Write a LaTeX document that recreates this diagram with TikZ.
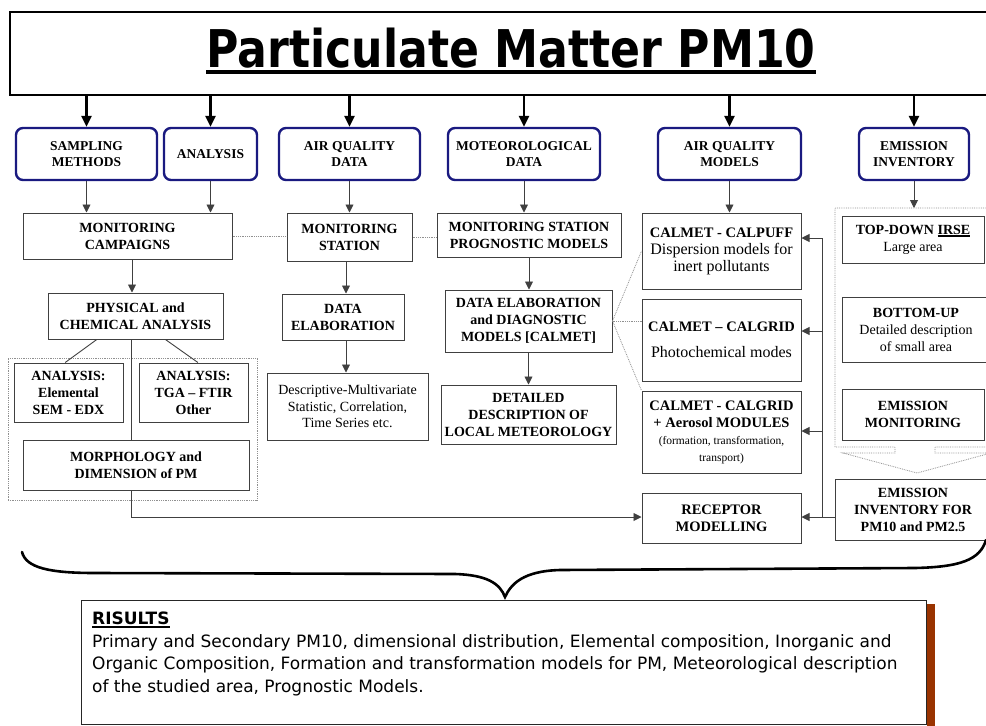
\documentclass[tikz,border=0pt]{standalone}
\usepackage{fontspec}
\setmainfont{Liberation Serif}
\newfontfamily\titlefont[FakeStretch=0.85]{DejaVu Sans}
\newfontfamily\resfont{DejaVu Sans}
\usetikzlibrary{arrows.meta,calc}
\definecolor{navy}{HTML}{1A1A80}
\definecolor{boxgray}{HTML}{404040}
\definecolor{dotgray}{HTML}{909090}
\definecolor{shadowbrown}{HTML}{993300}
\newcommand\fsz[2]{\fontsize{#1}{#2}\selectfont}
\newcommand\rg{\mdseries\fsz{16}{18}}
\newcommand\rgs{\mdseries\fsz{11.5}{14}}
\newcommand\rgm{\mdseries}
\newsavebox\ulbox
\newcommand\myul[1]{\sbox\ulbox{#1}\rlap{\rule[-2.8pt]{\wd\ulbox}{1.6pt}}\usebox\ulbox}
\tikzset{
  wh/.style 2 args={minimum width=#1pt, minimum height=#2pt},
  topbox/.style={draw=navy, line width=2.4pt, rounded corners=7pt, fill=white, align=center, inner sep=1pt, font=\bfseries\fsz{13.5}{16.5}},
  box/.style={draw=boxgray, line width=1pt, fill=white, align=center, inner sep=1pt, font=\bfseries\fsz{14}{17}},
  rbox/.style={box, font=\bfseries\fsz{14.5}{17}},
  bigarr/.style={line width=2.4pt, -{Triangle[length=11pt,width=10pt]}},
  thinline/.style={draw=boxgray, line width=0.9pt},
  thinarr/.style={thinline, -{Triangle[length=8pt,width=8pt]}},
  dotline/.style={draw=dotgray, line width=0.8pt, densely dotted},
}
\begin{document}
\begin{tikzpicture}[x=1pt,y=-1pt]
\useasboundingbox (0,0) rectangle (986,726);
\fill[white] (0,0) rectangle (986,726);

% title
\node[draw=black, line width=1.2pt, fill=white, wh={1002}{83}] (title) at (511,53.5) {};
\node[inner sep=0, anchor=base, font=\titlefont\bfseries\fsz{52}{54}] (tt) at (511,67) {Particulate Matter PM10};
\draw[line width=4pt] ([yshift=-5pt]tt.base west) -- ([yshift=-5pt]tt.base east);

% top boxes
\node[topbox, wh={141}{52}] (sm) at (86.5,154) {SAMPLING\\METHODS};
\node[topbox, wh={93}{52}] (an) at (210.5,154) {ANALYSIS};
\node[topbox, wh={141}{52}] (aqd) at (349.5,154) {AIR QUALITY\\DATA};
\node[topbox, wh={152}{52}] (met) at (524,154) {MOTEOROLOGICAL\\DATA};
\node[topbox, wh={143}{52}] (aqm) at (729.5,154) {AIR QUALITY\\MODELS};
\node[topbox, wh={110}{52}] (ei) at (914,154) {EMISSION\\INVENTORY};

\foreach \n in {sm,an,aqd,met,aqm,ei}{
  \draw[bigarr] (title.south -| \n.north) -- (\n.north);
}

% containers
\node[dotline, draw, wh={249}{142}] (lgroup) at (132.5,429) {};
\draw[dotline] (1000,208) -- (835,208) -- (835,447) -- (895,447) -- (895,453) -- (843,453)
  -- (917,473) -- (991,453) -- (935,453) -- (935,447) -- (1000,447);
\coordinate (egroup) at (911,208);

% second row
\node[box, wh={209}{46}] (mc) at (127.5,236) {MONITORING\\CAMPAIGNS};
\node[box, wh={125}{48}] (ms) at (349.5,237) {MONITORING\\STATION};
\node[box, wh={184}{44}] (mspm) at (529,235) {MONITORING STATION\\PROGNOSTIC MODELS};
\node[box, wh={175}{46}] (phys) at (135.5,316) {PHYSICAL and\\CHEMICAL ANALYSIS};
\node[box, wh={122}{46}] (de) at (343,317) {DATA\\ELABORATION};
\node[box, wh={167}{62}] (dedm) at (528.5,321) {DATA ELABORATION\\and DIAGNOSTIC\\MODELS [CALMET]};
\node[box, wh={161}{67}, font=\mdseries\fsz{14}{16.7}] (desc) at (347.5,406.5) {Descriptive-Multivariate\\Statistic, Correlation,\\Time Series etc.};
\node[box, wh={175}{59}] (det) at (528.5,414.5) {DETAILED\\DESCRIPTION OF\\LOCAL METEOROLOGY};
\node[box, wh={109}{59}] (elem) at (68.5,392.5) {ANALYSIS:\\Elemental\\SEM - EDX};
\node[box, wh={109}{59}] (tga) at (193.5,392.5) {ANALYSIS:\\TGA -- FTIR\\Other};
\node[box, wh={226}{50}] (morph) at (136,465) {MORPHOLOGY and\\DIMENSION of PM};

% right column
\node[rbox, wh={159}{76}] (calpuff) at (721.5,251) {CALMET - CALPUFF\\\rg Dispersion models for\\\rg inert pollutants};
\node[rbox, wh={159}{82}] (calgrid) at (721.5,340) {CALMET -- CALGRID\\[9pt]\rg Photochemical modes};
\node[rbox, wh={159}{82}] (aer) at (721.5,432) {CALMET - CALGRID\\+ Aerosol MODULES\\\rgs (formation, transformation,\\\rgs transport)};
\node[rbox, wh={159}{50}] (rec) at (721.5,518) {RECEPTOR\\MODELLING};

% emission column
\node[box, wh={142}{47}] (td) at (913,239.5) {TOP-DOWN \myul{IRSE}\\\rgm Large area};
\node[box, wh={148}{65}] (bu) at (916,329.5) {BOTTOM-UP\\\rgm Detailed description\\\rgm of small area};
\node[box, wh={142}{51}] (emon) at (913,414.5) {EMISSION\\MONITORING};
\node[box, wh={156}{61}] (eifor) at (913,509.5) {EMISSION\\INVENTORY FOR\\PM10 and PM2.5};

% connectors
\draw[thinarr] (sm.south) -- (sm.south |- mc.north);
\draw[thinarr] (an.south) -- (an.south |- mc.north);
\draw[thinarr] (aqd.south) -- (aqd.south |- ms.north);
\draw[thinarr] (met.south) -- (met.south |- mspm.north);
\draw[thinarr] (aqm.south) -- (aqm.south |- calpuff.north);
\draw[thinarr] (ei.south) -- (ei.south |- egroup);

\coordinate (k0) at (132,0);
\draw[thinarr] (mc.south -| k0) -- (phys.north -| k0);
\coordinate (k2) at (346,0);
\draw[thinarr] (ms.south -| k2) -- (de.north -| k2);
\draw[thinarr] (de.south -| k2) -- (desc.north -| k2);
\draw[thinarr] (mspm.south) -- (mspm.south |- dedm.north);
\draw[thinarr] (dedm.south) -- (dedm.south |- det.north);

\draw[thinline] ($(phys.south west)!0.28!(phys.south east)$) -- ($(elem.north west)!0.47!(elem.north east)$);
\draw[thinline] ($(phys.south west)!0.67!(phys.south east)$) -- ($(tga.north west)!0.54!(tga.north east)$);
\coordinate (k1) at (131,517);
\draw[thinline] (phys.south -| k1) -- (morph.north -| k1);
\draw[thinarr] (morph.south -| k1) -- (k1) -- (k1 -| rec.west);

\coordinate (j1) at (822,238);
\coordinate (j2) at (822,331);
\coordinate (j3) at (822,431);
\coordinate (j4) at (822,517);
\draw[thinline] (j1) -- (j4);
\draw[thinarr] (j1) -- (j1 -| calpuff.east);
\draw[thinarr] (j2) -- (j2 -| calgrid.east);
\draw[thinarr] (j3) -- (j3 -| aer.east);
\draw[thinarr] (eifor.west |- j4) -- (j4 -| rec.east);

% dotted links
\draw[dotline] (mc.east) -- (mc.east -| ms.west);
\draw[dotline] (ms.east) -- (ms.east -| mspm.west);
\draw[dotline] (dedm.east) -- (calpuff.west);
\draw[dotline] (dedm.east) -- (dedm.east -| calgrid.west);
\draw[dotline] (dedm.east) -- (aer.north west);

% brace
\draw[line width=2.6pt, line cap=round] (22,552) .. controls (26,568) and (50,573) .. (95,573)
  -- (455,574) .. controls (488,575) and (500,584) .. (505,597)
  .. controls (511,584) and (523,571) .. (560,570) -- (915,568)
  .. controls (960,567) and (980,560) .. (986,540);

% results
\fill[shadowbrown] (927,604) rectangle (935,730);
\node[draw=black!85, line width=1pt, fill=white, wh={845}{124}] (res) at (503.5,662) {};
\node[anchor=north west, align=left, inner sep=0, font=\resfont\fsz{17}{22.5}] (restext) at (92,612)
 {\textbf{\myul{RISULTS}}\\
  Primary and Secondary PM10, dimensional distribution, Elemental composition, Inorganic and\\
  Organic Composition, Formation and transformation models for PM, Meteorological description\\
  of the studied area, Prognostic Models.};
\end{tikzpicture}
\end{document}
